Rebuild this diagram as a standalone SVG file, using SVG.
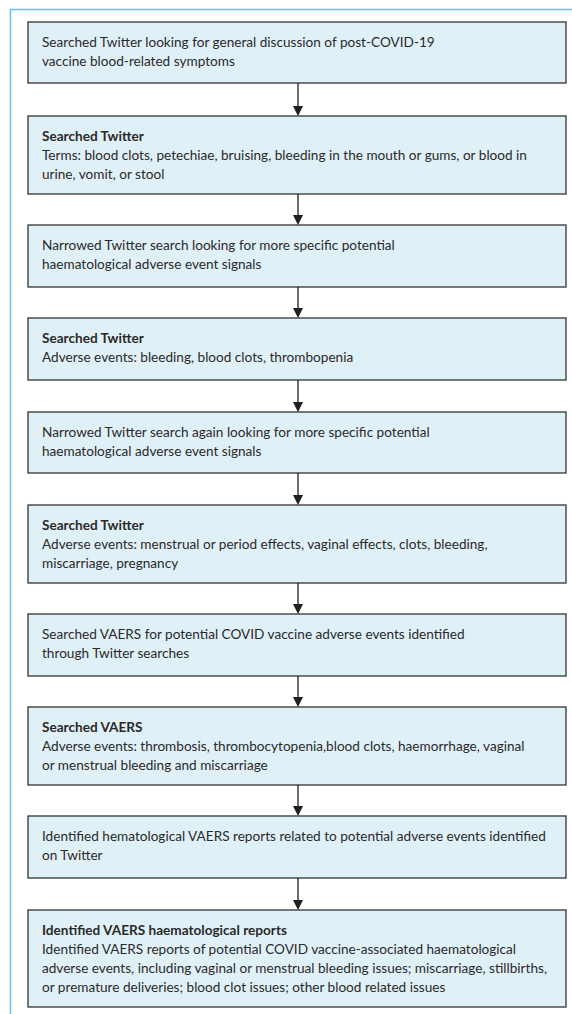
<svg xmlns="http://www.w3.org/2000/svg" width="572" height="1014" viewBox="0 0 572 1014">
<style>
.box{fill:#e0f0f7;stroke:#333;stroke-width:1.3}
.t{font-family:Lato,"Open Sans",sans-serif;font-size:13.6px;fill:#2a2a2a}
.b{font-weight:bold}
.c{stroke:#231f20;stroke-width:1.3;fill:none}
.h{fill:#231f20}
</style>
<rect width="572" height="1014" fill="#fff"/>
<path d="M10.5,1014 V9.5 H572" fill="none" stroke="#6ac4de" stroke-width="1.6"/>
<g id="n1"><rect class="box" x="28" y="22" width="538" height="61"/>
<text class="t" x="42" y="47">Searched Twitter looking for general discussion of post-COVID-19</text>
<text class="t" x="42" y="66">vaccine blood-related symptoms</text></g>
<g id="n2"><rect class="box" x="28" y="116" width="538" height="78"/>
<text class="t b" x="42" y="141">Searched Twitter</text>
<text class="t" x="42" y="160">Terms: blood clots, petechiae, bruising, bleeding in the mouth or gums, or blood in</text>
<text class="t" x="42" y="179">urine, vomit, or stool</text></g>
<g id="n3"><rect class="box" x="28" y="225" width="538" height="62"/>
<text class="t" x="42" y="250">Narrowed Twitter search looking for more specific potential</text>
<text class="t" x="42" y="269">haematological adverse event signals</text></g>
<g id="n4"><rect class="box" x="28" y="318" width="538" height="62"/>
<text class="t b" x="42" y="343">Searched Twitter</text>
<text class="t" x="42" y="362">Adverse events: bleeding, blood clots, thrombopenia</text></g>
<g id="n5"><rect class="box" x="28" y="412" width="538" height="61"/>
<text class="t" x="42" y="437">Narrowed Twitter search again looking for more specific potential</text>
<text class="t" x="42" y="456">haematological adverse event signals</text></g>
<g id="n6"><rect class="box" x="28" y="505" width="538" height="78"/>
<text class="t b" x="42" y="530">Searched Twitter</text>
<text class="t" x="42" y="549">Adverse events: menstrual or period effects, vaginal effects, clots, bleeding,</text>
<text class="t" x="42" y="568">miscarriage, pregnancy</text></g>
<g id="n7"><rect class="box" x="28" y="614" width="538" height="62"/>
<text class="t" x="42" y="639">Searched VAERS for potential COVID vaccine adverse events identified</text>
<text class="t" x="42" y="658">through Twitter searches</text></g>
<g id="n8"><rect class="box" x="28" y="707" width="538" height="78"/>
<text class="t b" x="42" y="732">Searched VAERS</text>
<text class="t" x="42" y="751">Adverse events: thrombosis, thrombocytopenia,blood clots, haemorrhage, vaginal</text>
<text class="t" x="42" y="770">or menstrual bleeding and miscarriage</text></g>
<g id="n9"><rect class="box" x="28" y="816" width="538" height="62"/>
<text class="t" x="42" y="841">Identified hematological VAERS reports related to potential adverse events identified</text>
<text class="t" x="42" y="860">on Twitter</text></g>
<g id="n10"><rect class="box" x="28" y="910" width="538" height="97"/>
<text class="t b" x="42" y="935">Identified VAERS haematological reports</text>
<text class="t" x="42" y="954">Identified VAERS reports of potential COVID vaccine-associated haematological</text>
<text class="t" x="42" y="973">adverse events, including vaginal or menstrual bleeding issues; miscarriage, stillbirths,</text>
<text class="t" x="42" y="992">or premature deliveries; blood clot issues; other blood related issues</text></g>
<g id="connectors">
<path class="c" d="M298,83 V106 M298,194 V215 M298,287 V308 M298,380 V402 M298,473 V495 M298,583 V604 M298,676 V697 M298,785 V806 M298,878 V900"/>
<path class="h" d="M293,106 H303 L298,116 Z M293,215 H303 L298,225 Z M293,308 H303 L298,318 Z M293,402 H303 L298,412 Z M293,495 H303 L298,505 Z M293,604 H303 L298,614 Z M293,697 H303 L298,707 Z M293,806 H303 L298,816 Z M293,900 H303 L298,910 Z"/>
</g>
</svg>
